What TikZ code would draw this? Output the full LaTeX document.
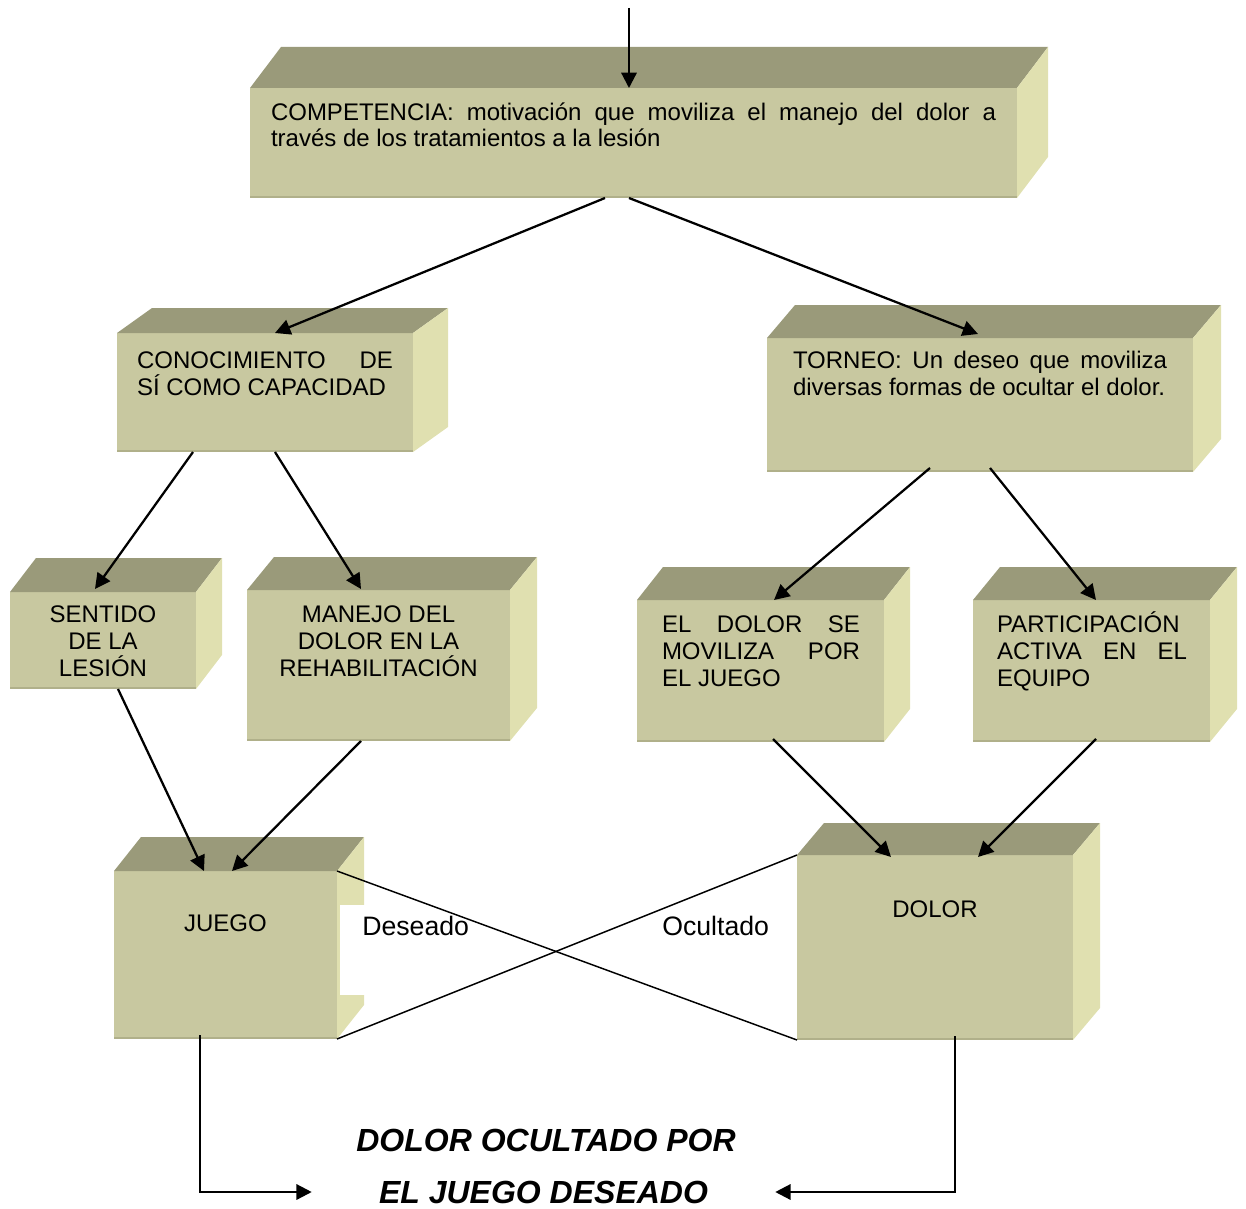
\documentclass[tikz,border=0pt]{standalone}
\usepackage{fontspec}
\setmainfont{Liberation Sans}
\usetikzlibrary{arrows.meta,calc}
\newdimen\upx \upx=0.75pt
\definecolor{frontC}{HTML}{C8C8A0}
\definecolor{topC}{HTML}{9A9A7A}
\definecolor{sideC}{HTML}{E0E0B0}
\definecolor{edgeC}{HTML}{B0B08A}
\newcommand\boxfaces[3]{%
  \fill[topC] (#1.north west) -- ++(#2,#3) -- ([shift={(#2,#3)}]#1.north east) -- (#1.north east) -- cycle;
  \fill[sideC] (#1.north east) -- ++(#2,#3) -- ([shift={(#2,#3)}]#1.south east) -- (#1.south east) -- cycle;
  \draw[edgeC, line width=1.5pt] ([yshift=0.75pt]#1.south west) -- ([yshift=0.75pt]#1.south east);
}
\newcommand\ftxt[4]{\parbox[c][#2\upx][t]{#1\upx}{\vspace*{#3\upx}#4}}
\newcommand\stt{\rule{0pt}{23\upx}}
\tikzset{
  face/.style={rectangle, fill=frontC, inner sep=0pt, outer sep=0pt, anchor=north west,
    font=\fontsize{18}{20.25}\selectfont},
  arr/.style={line width=1.7pt, -{Triangle[length=11.5pt,width=11.5pt]}},
  thinline/.style={line width=1.1pt},
  lab/.style={font=\fontsize{20}{24}\selectfont, inner sep=0pt},
  big/.style={font=\fontsize{24}{28}\selectfont\bfseries\itshape, inner sep=0pt}
}
\begin{document}
\begin{tikzpicture}[x=0.75pt,y=-0.75pt]
\useasboundingbox (0,0) rectangle (1246,1209);

% boxes
\node[face] (comp) at (250,88) {\ftxt{767}{110}{9}{\leftskip=21\upx\rightskip=21\upx\stt COMPETENCIA: motivación que moviliza el manejo del dolor a\linebreak través de los tratamientos a la lesión}};
\boxfaces{comp}{31}{-41}

\node[face] (conoc) at (117,333) {\ftxt{296}{119}{12}{\leftskip=20\upx\rightskip=20\upx\stt CONOCIMIENTO DE\linebreak SÍ COMO CAPACIDAD}};
\boxfaces{conoc}{35}{-25}

\node[face] (torneo) at (767,338) {\ftxt{426}{134}{7}{\leftskip=26\upx\rightskip=26\upx\stt TORNEO: Un deseo que moviliza\linebreak diversas formas de ocultar el dolor.}};
\boxfaces{torneo}{28}{-33}

\node[face] (sentido) at (10,592) {\ftxt{186}{97}{7.5}{\centering\stt SENTIDO\\DE LA\\LESIÓN}};
\boxfaces{sentido}{26}{-34}

\node[face] (manejo) at (247,590) {\ftxt{263}{151}{9.5}{\centering\stt MANEJO DEL\\DOLOR EN LA\\REHABILITACIÓN}};
\boxfaces{manejo}{27}{-33}

\node[face] (eldolor) at (637,600) {\ftxt{247}{142}{9.5}{\leftskip=25\upx\rightskip=24\upx\stt EL DOLOR SE\linebreak MOVILIZA POR\linebreak EL JUEGO}};
\boxfaces{eldolor}{26}{-33}

\node[face] (partic) at (973,600) {\ftxt{237}{142}{9.5}{\leftskip=24\upx\rightskip=23\upx\stt PARTICIPACIÓN\linebreak ACTIVA EN EL\linebreak EQUIPO}};
\boxfaces{partic}{27}{-33}

\node[face] (juego) at (114,871) {\ftxt{223}{168}{37.5}{\centering\stt JUEGO}};
\boxfaces{juego}{27}{-34}

\node[face] (dolor) at (797,855) {\ftxt{276}{185}{39.5}{\centering\stt DOLOR}};
\boxfaces{dolor}{27}{-32}

% labels
\node[lab, fill=white, anchor=base west, inner xsep=16.5pt, text height=22.9pt, text depth=44.6pt] (des) at (340,935.5) {Deseado};
\node[lab, anchor=base west] (ocu) at (662,935.5) {Ocultado};

\node[big] (line1) at (546,1140) {DOLOR OCULTADO POR};
\node[big, minimum width=347.25pt] (line2) at (543.5,1192) {EL JUEGO DESEADO};

% connectors
\coordinate (topin) at (629,8);
\draw[arr] (topin) -- ([shift={(379,0)}]comp.north west);
\draw[arr] ([shift={(355,0)}]comp.south west) -- ([shift={(158,0)}]conoc.north west);
\draw[arr] ([shift={(379,0)}]comp.south west) -- ([shift={(211,-4)}]torneo.north west);
\draw[arr] ([shift={(76,0)}]conoc.south west) -- ([shift={(85,-3)}]sentido.north west);
\draw[arr] ([shift={(158,0)}]conoc.south west) -- ([shift={(114,-1)}]manejo.north west);
\draw[arr] ([shift={(163,-4)}]torneo.south west) -- ([shift={(137,0)}]eldolor.north west);
\draw[arr] ([shift={(223,-4)}]torneo.south west) -- ([shift={(123,0)}]partic.north west);
\draw[arr] ([shift={(108,0)}]sentido.south west) -- ([shift={(90,0)}]juego.north west);
\draw[arr] ([shift={(114,0)}]manejo.south west) -- ([shift={(118,0)}]juego.north west);
\draw[arr] ([shift={(136,-3)}]eldolor.south west) -- ([shift={(94,2)}]dolor.north west);
\draw[arr] ([shift={(123,-3)}]partic.south west) -- ([shift={(181,2)}]dolor.north west);

\draw[thinline] (juego.north east) -- (dolor.south west);
\draw[thinline] (juego.south east) -- (dolor.north west);

\draw[arr] ([shift={(86,-4)}]juego.south west) |- (line2.west);
\draw[arr] ([shift={(158,-4)}]dolor.south west) |- (line2.east);
\end{tikzpicture}
\end{document}
